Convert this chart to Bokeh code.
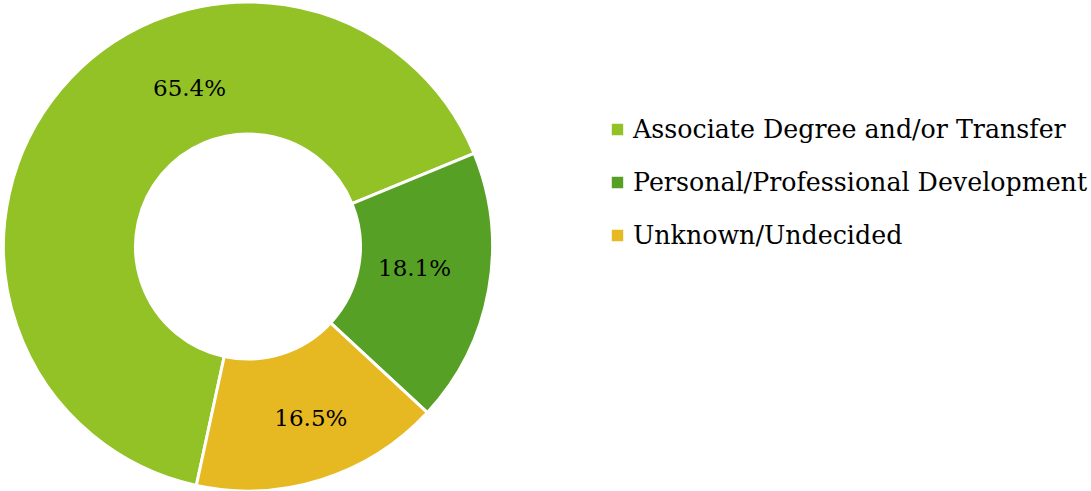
import numpy as np
from bokeh.plotting import figure
from bokeh.models import ColumnDataSource, Legend, LegendItem, Range1d
from bokeh.core.properties import value
from bokeh.embed import file_html
from bokeh.resources import INLINE

# ---- data ----
categories = ["Associate Degree and/or Transfer", "Personal/Professional Development", "Unknown/Undecided"]
shares = [65.4, 18.1, 16.5]
labels = ["65.4%", "18.1%", "16.5%"]
colors = ["#93C227", "#56A125", "#E6B923"]

# ---- layout / style ----
W, H = 1091, 491
cx, cy = 247.5, 245.0          # ring centre (px)
r_out, r_in = 244.5, 112.5
start_deg = 257.8              # first slice starts here and runs clockwise
label_angle = [110.3, -7.5, -69.9]
label_radius = [168.5, 168.0, 183.0]
FONT = "DejaVu Serif"

frac = np.array(shares) / sum(shares)
ends = start_deg - 360 * np.cumsum(frac)
starts = np.concatenate([[start_deg], ends[:-1]])

src = ColumnDataSource(dict(cat=categories, start=ends, end=starts, color=colors))

p = figure(width=W, height=H, output_backend="svg", toolbar_location=None,
           x_range=Range1d(0, W), y_range=Range1d(0, H), min_border=0)
p.axis.visible = False
p.grid.visible = False
p.outline_line_color = None
p.background_fill_color = "white"

r = p.annular_wedge(x=cx, y=cy, inner_radius=r_in, outer_radius=r_out,
                    start_angle="start", end_angle="end", start_angle_units="deg",
                    end_angle_units="deg", direction="anticlock",
                    fill_color="color", line_color="white", line_width=3, source=src)

la = np.radians(label_angle)
lx = cx + np.array(label_radius) * np.cos(la)
ly = cy + np.array(label_radius) * np.sin(la)
p.text(x=lx, y=ly, text=labels, text_align="center", text_baseline="middle",
       text_font=value(FONT), text_font_size="23px", text_color="black")

legend = Legend(items=[LegendItem(label=c, renderers=[r], index=i) for i, c in enumerate(categories)],
                location=(608, 236), orientation="vertical",
                glyph_width=18, glyph_height=18, label_standoff=7,
                label_height=40, spacing=13, padding=0, margin=0,
                label_text_font=FONT, label_text_font_size="25.3px",
                label_text_color="black", border_line_color=None, background_fill_alpha=0)
p.add_layout(legend)

open("out.html", "w").write(file_html(p, INLINE))
